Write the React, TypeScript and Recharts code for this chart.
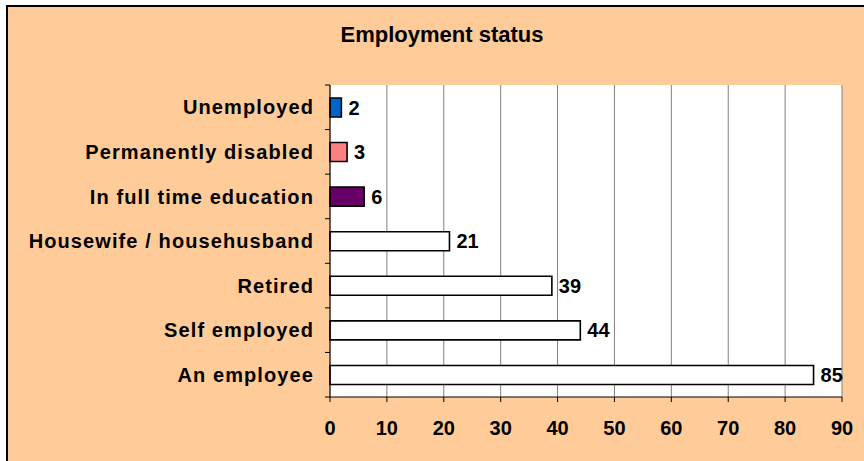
import { BarChart, Bar, XAxis, YAxis, CartesianGrid, LabelList, Cell } from 'recharts';

const categories = [
    'Unemployed',
    'Permanently disabled',
    'In full time education',
    'Housewife / househusband',
    'Retired',
    'Self employed',
    'An employee',
];
const counts = [2, 3, 6, 21, 39, 44, 85];
const barColors = ['#0066CC', '#FF8080', '#660066', '#FFFFFF', '#FFFFFF', '#FFFFFF', '#FFFFFF'];
const xTicks = [0, 10, 20, 30, 40, 50, 60, 70, 80, 90];

const W = 864;
const H = 461;
const X_AXIS_H = 50;
const M = { top: 85, right: 22, bottom: 64 - X_AXIS_H, left: 10 };
const Y_AXIS_W = 320;
const FONT = '"Liberation Sans", Arial, sans-serif';
const BAND = (H - M.top - M.bottom - X_AXIS_H) / categories.length;

const data = categories.map((name, i) => ({ name, value: counts[i], fill: barColors[i] }));

function CategoryTick(props: any) {
    const { x, y, payload, index } = props;
    const axisX = M.left + Y_AXIS_W;
    return (
        <g>
            <text
                x={x}
                y={y}
                dy="0.355em"
                textAnchor="end"
                fontFamily={FONT}
                fontSize={20}
                fontWeight="bold"
                letterSpacing={1.1}
                fill="#000"
            >
                {payload.value}
            </text>
            {index === 0 && (
                <line x1={axisX - 5} x2={axisX} y1={y - BAND / 2} y2={y - BAND / 2} stroke="#000" />
            )}
            <line x1={axisX - 5} x2={axisX} y1={y + BAND / 2} y2={y + BAND / 2} stroke="#000" />
        </g>
    );
}

export default function App() {
    return (
        <div style={{ position: 'absolute', left: 0, top: 0, width: W, height: H, overflow: 'hidden', background: '#fff' }}>
            <div
                style={{
                    position: 'absolute',
                    left: 6,
                    top: 5,
                    width: W + 40,
                    height: H + 40,
                    border: '2px solid #000',
                    background: '#FFCC99',
                }}
            />
            <div style={{ position: 'absolute', left: 0, top: 0 }}>
                <BarChart width={W} height={H} data={data} layout="vertical" margin={M}>
                    <text
                        x={442}
                        y={42}
                        textAnchor="middle"
                        fontFamily={FONT}
                        fontSize={22}
                        fontWeight="bold"
                        fill="#000"
                    >
                        Employment status
                    </text>
                    <CartesianGrid horizontal={false} stroke="#808080" fill="#FFFFFF" fillOpacity={1} />
                    <XAxis
                        type="number"
                        domain={[0, 90]}
                        ticks={xTicks}
                        interval={0}
                        height={X_AXIS_H}
                        axisLine={{ stroke: '#000' }}
                        tickLine={{ stroke: '#000' }}
                        tickSize={5}
                        tickMargin={19}
                        tick={{ fill: '#000', fontFamily: FONT, fontSize: 20, fontWeight: 'bold' }}
                    />
                    <YAxis
                        type="category"
                        dataKey="name"
                        width={Y_AXIS_W}
                        axisLine={{ stroke: '#000' }}
                        tickLine={false}
                        tickSize={5}
                        tickMargin={11}
                        interval={0}
                        tick={<CategoryTick />}
                    />
                    <Bar dataKey="value" barSize={19} stroke="#000" strokeWidth={1.6} isAnimationActive={false}>
                        {data.map((d) => (
                            <Cell key={d.name} fill={d.fill} />
                        ))}
                        <LabelList
                            dataKey="value"
                            position="right"
                            offset={7}
                            fill="#000"
                            fontFamily={FONT}
                            fontSize={20}
                            fontWeight="bold"
                        />
                    </Bar>
                </BarChart>
            </div>
        </div>
    );
}
